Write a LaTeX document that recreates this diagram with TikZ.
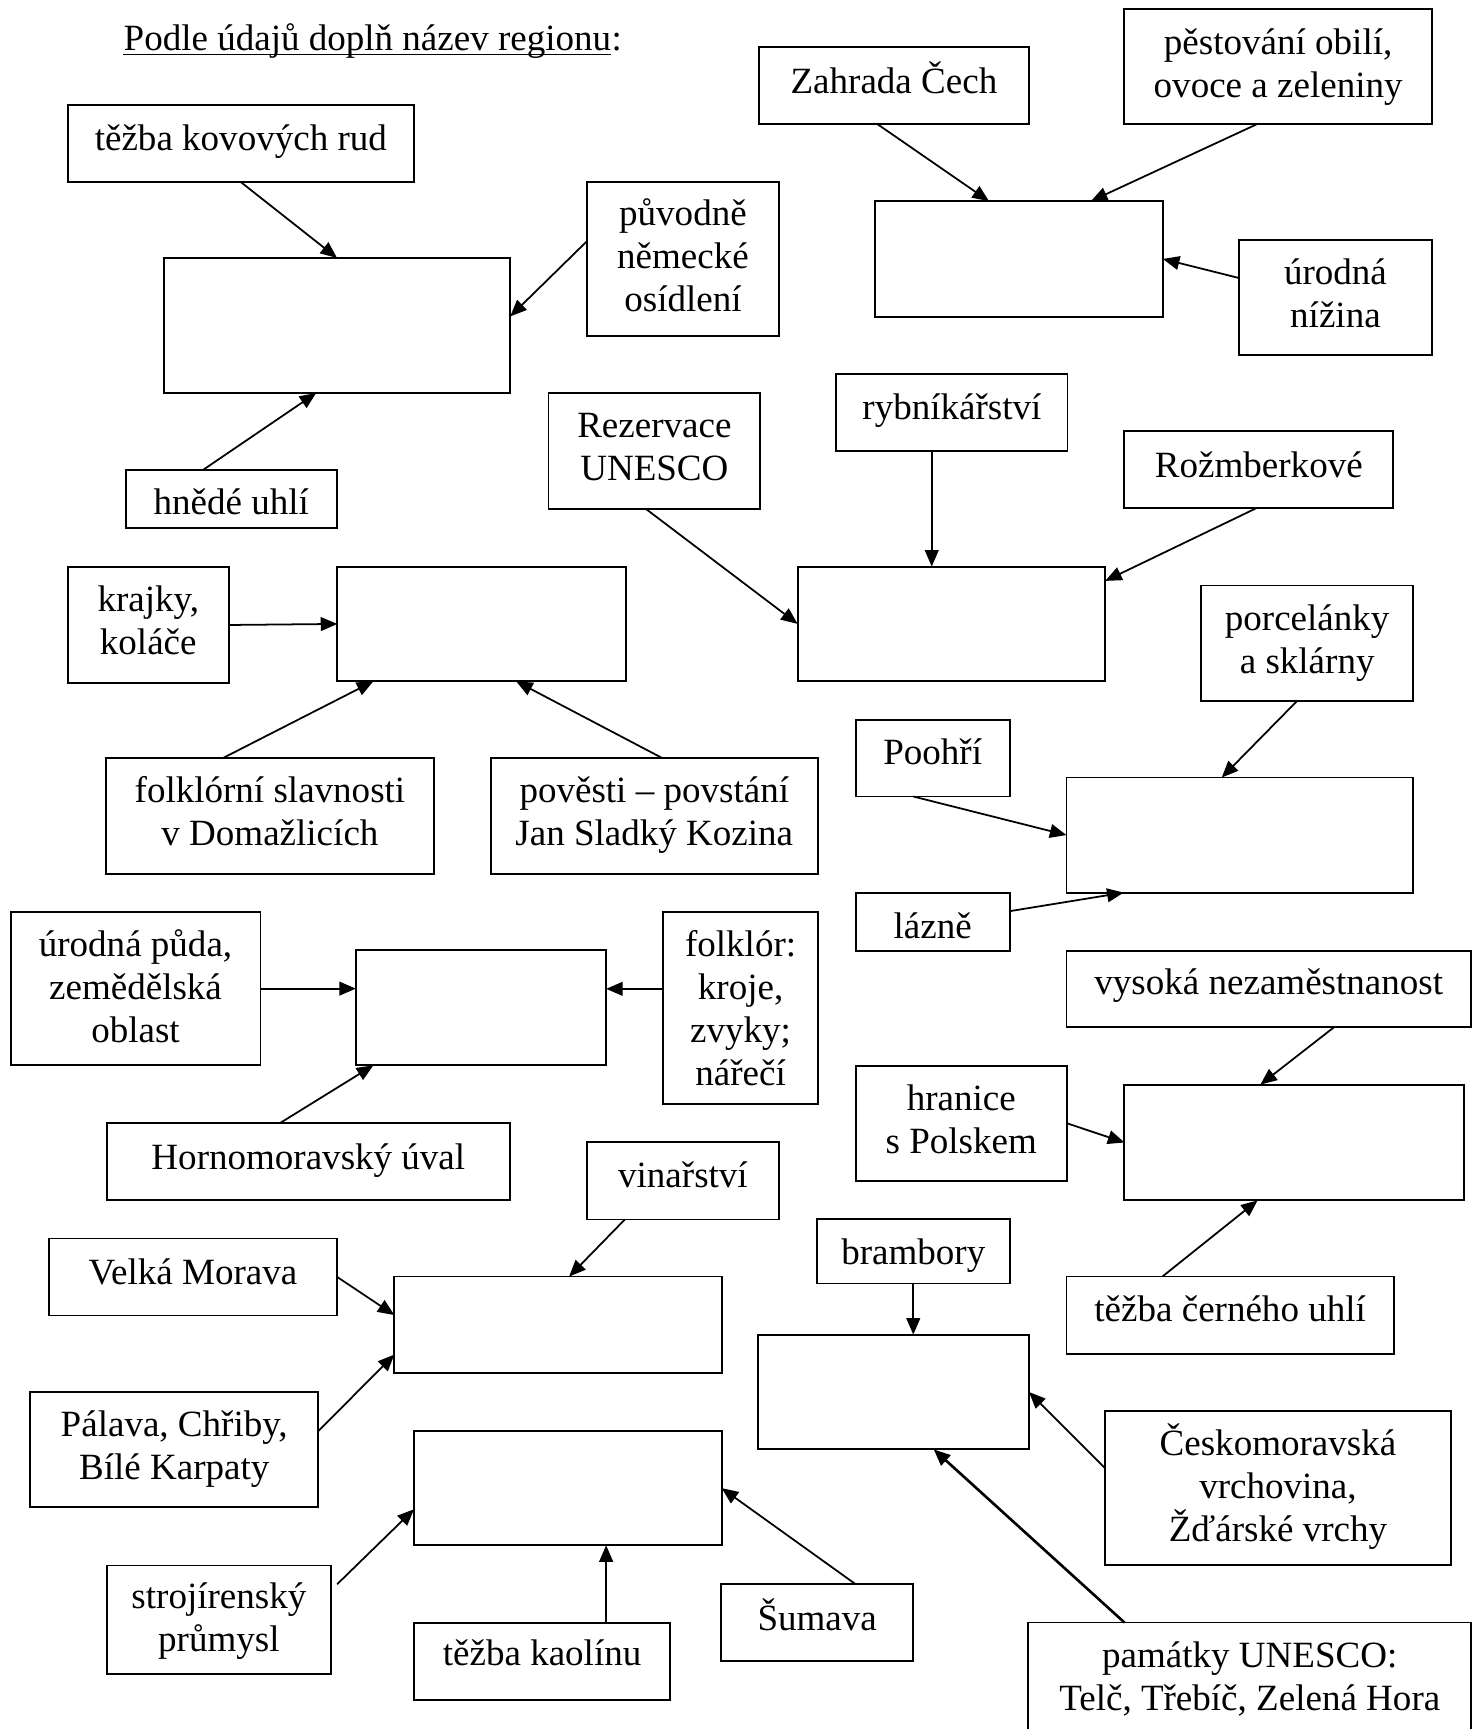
\documentclass[tikz,border=0pt]{standalone}
\usepackage{fontspec}
\setmainfont{Liberation Serif}
\usetikzlibrary{calc,arrows.meta}
\tikzset{
  box/.style={draw, line width=1.7pt, inner sep=0pt, outer sep=0pt, anchor=north west},
  txt/.style={align=center, inner sep=0pt, anchor=north, font=\fontsize{33.6}{39}\selectfont},
  arr/.style={line width=1.6pt, -{Triangle[length=15pt,width=12.5pt]}},
  thickarr/.style={arr, line width=2.4pt},
}
% box with text: name, x1, y1, x2, y2, baseline of first line, text
\newcommand\tb[7]{%
  \node[box, minimum width={(#4-#2)*1pt}, minimum height={(#5-#3)*1pt}] (#1) at (#2,#3) {};
  \node[txt] (#1t) at ({(#2+#4)/2},{#6-32}) {\rule{0pt}{32pt}#7};}
% empty box: name, x1, y1, x2, y2
\newcommand\eb[5]{%
  \node[box, minimum width={(#4-#2)*1pt}, minimum height={(#5-#3)*1pt}] (#1) at (#2,#3) {};}
\begin{document}
\begin{tikzpicture}[x=1pt,y=-1pt]
\useasboundingbox (0,0) rectangle (1340,1568.6);
% title
\node[inner sep=0pt, anchor=base west, font=\fontsize{33.6}{39}\selectfont] (title) at (112,45.5) {Podle údajů doplň název regionu};
\node[inner sep=0pt, anchor=base west, font=\fontsize{33.6}{39}\selectfont] (colon) at (title.base east) {:};
\draw[line width=1.4pt] ([yshift=-3.8pt]title.base west) -- ([yshift=-3.8pt]title.base east);

% boxes
\tb{tezba}{61.6}{95.6}{375.4}{165.2}{136.5}{těžba kovových rud}
\eb{A}{148.6}{234}{462.9}{356.5}
\tb{puvodne}{532.3}{165.2}{706.9}{304.6}{204.5}{původně\\německé\\osídlení}
\tb{hnede}{114.3}{426.4}{305.5}{478.9}{466.8}{hnědé uhlí}

\tb{zahrada}{688.4}{42.8}{933.6}{112.8}{85}{Zahrada Čech}
\tb{pestovani}{1020.1}{8.1}{1299}{112.8}{49}{pěstování obilí,\\ovoce a zeleniny}
\eb{B}{793.8}{182.5}{1055}{287.4}
\tb{urodna}{1124.1}{217.7}{1299}{322.4}{258}{úrodná\\nížina}

\tb{rezervace}{497.6}{356.7}{689.7}{461.4}{396.5}{Rezervace\\UNESCO}
\tb{rybnik}{758.8}{339.3}{968.5}{409.3}{380}{rybníkářství}
\tb{rozmberk}{1020.1}{391.4}{1264}{461.1}{432.6}{Rožmberkové}
\eb{C}{723.6}{514}{1002.7}{618}

\tb{krajky}{61.5}{514}{207.5}{620}{554.5}{krajky,\\koláče}
\eb{D}{306}{514}{567.7}{618.1}
\tb{folklorni}{96}{688}{393.8}{793}{727.5}{folklórní slavnosti\\v Domažlicích}
\tb{povesti}{445.2}{688}{742}{793}{727.5}{pověsti – povstání\\Jan Sladký Kozina}

\tb{porcelan}{1089.8}{531.2}{1282}{635.6}{572}{porcelánky\\a sklárny}
\tb{poohri}{776.3}{653.4}{916}{722.6}{693}{Poohří}
\eb{E}{967.5}{705.4}{1282}{809.8}
\tb{lazne}{776.3}{809.8}{916}{862.4}{850.8}{lázně}

\tb{urodnapuda}{9.6}{827.3}{236.3}{966.5}{867.5}{úrodná půda,\\zemědělská\\oblast}
\eb{F}{322.8}{861.8}{549.9}{966.5}
\tb{folklor}{601.8}{827.3}{742}{1001.8}{867.5}{folklór:\\kroje,\\zvyky;\\nářečí}
\tb{horno}{97}{1018.8}{462.5}{1088.6}{1060.6}{Hornomoravský úval}

\tb{vysoka}{967.5}{862.4}{1334.6}{932}{902.1}{vysoká nezaměstnanost}
\tb{hranice}{776.3}{966.8}{967.9}{1071.3}{1006.9}{hranice\\s Polskem}
\eb{G}{1020.1}{984}{1328.4}{1089}
\tb{cerne}{967.5}{1158.1}{1264.5}{1228.1}{1199}{těžba černého uhlí}

\tb{vinarstvi}{532.2}{1035.8}{707}{1106.4}{1077.3}{vinařství}
\tb{velka}{44.2}{1123.6}{305.9}{1193.4}{1164.7}{Velká Morava}
\eb{H}{357.8}{1158.1}{654.7}{1245.5}
\tb{palava}{27.4}{1263}{288.7}{1367.3}{1303}{Pálava, Chřiby,\\Bílé Karpaty}

\tb{brambory}{741}{1106.2}{916.1}{1164.4}{1147.1}{brambory}
\eb{I}{688}{1210.8}{933.5}{1314.9}
\tb{ceskomor}{1002.4}{1280}{1316.4}{1419.8}{1320}{Českomoravská\\vrchovina,\\Žďárské vrchy}
\tb{pamatky}{933}{1472}{1334.6}{1590}{1512.6}{památky UNESCO:\\Telč, Třebíč, Zelená Hora}

\eb{J}{375.6}{1298.2}{654.7}{1401.9}
\tb{stroj}{97}{1420.2}{300.2}{1518.4}{1459.4}{strojírenský\\průmysl}
\tb{kaolin}{375.6}{1472.2}{608}{1542.1}{1511.2}{těžba kaolínu}
\tb{sumava}{654.2}{1437.2}{828.5}{1507}{1479}{Šumava}

% connectors
\draw[arr] (tezba.south) -- (A.north);
\draw[arr] ($(puvodne.north west)!0.386!(puvodne.south west)$) -- ($(A.north east)!0.433!(A.south east)$);
\draw[arr] ($(hnede.north west)!0.365!(hnede.north east)$) -- ($(A.south west)!0.44!(A.south east)$);

\draw[arr] ($(zahrada.south west)!0.44!(zahrada.south east)$) -- ($(B.north west)!0.396!(B.north east)$);
\draw[arr] ($(pestovani.south west)!0.43!(pestovani.south east)$) -- ($(B.north west)!0.75!(B.north east)$);
\draw[arr] ($(urodna.north west)!0.33!(urodna.south west)$) -- (B.east);

\draw[arr] ($(rezervace.south west)!0.458!(rezervace.south east)$) -- (C.west);
\coordinate (rs) at ($(rybnik.south west)!0.4125!(rybnik.south east)$);
\draw[arr] (rs) -- (rs |- C.north);
\draw[arr] ($(rozmberk.south west)!0.49!(rozmberk.south east)$) -- ($(C.north east)!0.125!(C.south east)$);

\draw[arr] (krajky.east) -- (D.west);
\draw[arr] ($(folklorni.north west)!0.355!(folklorni.north east)$) -- ($(D.south west)!0.125!(D.south east)$);
\draw[arr] ($(povesti.north west)!0.526!(povesti.north east)$) -- ($(D.south west)!0.62!(D.south east)$);

\draw[arr] ($(porcelan.south west)!0.454!(porcelan.south east)$) -- ($(E.north west)!0.448!(E.north east)$);
\draw[arr] ($(poohri.south west)!0.374!(poohri.south east)$) -- (E.west);
\draw[arr] ($(lazne.north east)!0.32!(lazne.south east)$) -- ($(E.south west)!0.165!(E.south east)$);

\draw[arr] (urodnapuda.east) -- (urodnapuda.east -| F.west);
\coordinate (fs) at ($(folklor.north west)!0.40!(folklor.south west)$);
\draw[arr] (fs) -- (fs -| F.east);
\draw[arr] ($(horno.north west)!0.43!(horno.north east)$) -- ($(F.south west)!0.07!(F.south east)$);

\draw[arr] ($(vysoka.south west)!0.661!(vysoka.south east)$) -- ($(G.north west)!0.40!(G.north east)$);
\draw[arr] (hranice.east) -- (G.west);
\draw[arr] ($(cerne.north west)!0.293!(cerne.north east)$) -- ($(G.south west)!0.392!(G.south east)$);

\draw[arr] ($(vinarstvi.south west)!0.198!(vinarstvi.south east)$) -- ($(H.north west)!0.534!(H.north east)$);
\draw[arr] (velka.east) -- ($(H.north west)!0.40!(H.south west)$);
\draw[arr] ($(palava.north east)!0.34!(palava.south east)$) -- ($(H.north west)!0.81!(H.south west)$);

\draw[arr] (brambory.south) -- (brambory.south |- I.north);
\draw[arr] ($(ceskomor.north west)!0.37!(ceskomor.south west)$) -- (I.east);
\draw[thickarr] ($(pamatky.north west)!0.217!(pamatky.north east)$) -- ($(I.south west)!0.648!(I.south east)$);

\coordinate (ss) at ($(stroj.north east)+(5.7,17)$);
\draw[arr] (ss) -- ($(J.north west)!0.685!(J.south west)$);
\coordinate (ks) at ($(kaolin.north west)!0.75!(kaolin.north east)$);
\draw[arr] (ks) -- (ks |- J.south);
\draw[arr] ($(sumava.north west)!0.70!(sumava.north east)$) -- (J.east);
\end{tikzpicture}
\end{document}
